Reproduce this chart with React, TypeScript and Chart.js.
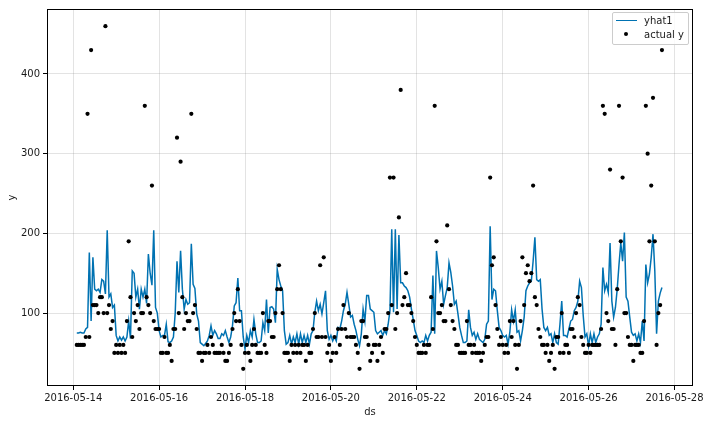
import React, { useEffect, useRef } from 'react';
import { Chart, registerables } from 'chart.js';

Chart.register(...registerables);

// x is measured in hours after 2016-05-14 00:00; the series start at 02:00
const START_HOUR = 2;
const xTickHours = [0, 48, 96, 144, 192, 240, 288, 336];
const xTickLabels = ['2016-05-14', '2016-05-16', '2016-05-18', '2016-05-20', '2016-05-22', '2016-05-24', '2016-05-26', '2016-05-28'];
const yTickValues = [100, 200, 300, 400];

// yhat1 (hourly), one list per day
const yhat_0514 = [75, 75, 76, 75, 75, 80, 82, 176, 90, 170, 130, 128, 130, 126, 142, 140, 124, 204, 120, 124, 107, 110];
const yhat_0515 = [72, 65, 70, 66, 70, 65, 70, 90, 68, 153, 150, 120, 130, 105, 130, 120, 130, 112, 174, 150, 135, 204, 107, 100];
const yhat_0516 = [78, 70, 72, 72, 86, 64, 63, 65, 70, 100, 165, 126, 178, 130, 105, 117, 111, 113, 187, 136, 131, 99, 90, 63];
const yhat_0517 = [61, 59, 62, 65, 72, 84, 72, 78, 74, 68, 68, 74, 72, 78, 70, 63, 70, 84, 109, 113, 144, 103, 103, 70];
const yhat_0518 = [55, 72, 63, 78, 70, 92, 74, 63, 63, 65, 88, 78, 117, 75, 107, 108, 105, 88, 155, 142, 134, 128, 78, 61];
const yhat_0519 = [63, 72, 61, 70, 63, 74, 61, 74, 63, 72, 63, 72, 61, 74, 78, 101, 115, 103, 111, 99, 113, 128, 78, 67];
const yhat_0520 = [72, 65, 70, 65, 82, 80, 90, 103, 111, 126, 111, 95, 97, 86, 78, 67, 59, 74, 105, 90, 122, 122, 105, 103];
const yhat_0521 = [101, 78, 74, 76, 78, 72, 78, 74, 86, 103, 205, 101, 205, 105, 198, 138, 138, 134, 132, 128, 120, 105, 92, 78];
const yhat_0522 = [72, 65, 63, 65, 63, 72, 65, 72, 76, 147, 74, 178, 157, 130, 140, 111, 122, 132, 163, 151, 134, 111, 115, 99];
const yhat_0523 = [82, 72, 63, 63, 65, 104, 82, 72, 76, 67, 74, 67, 65, 63, 67, 86, 90, 209, 117, 130, 128, 103, 82, 78];
const yhat_0524 = [72, 70, 72, 61, 76, 104, 90, 104, 76, 78, 65, 78, 95, 128, 134, 138, 140, 165, 195, 142, 140, 142, 105, 82];
const yhat_0525 = [78, 82, 72, 74, 63, 74, 63, 61, 86, 115, 72, 72, 70, 80, 90, 92, 103, 107, 115, 140, 132, 97, 70, 74];
const yhat_0526 = [59, 74, 63, 74, 63, 70, 74, 86, 157, 128, 136, 126, 188, 115, 95, 107, 130, 161, 188, 165, 201, 120, 115, 95];
const yhat_0527 = [76, 72, 74, 65, 74, 63, 90, 65, 161, 138, 149, 170, 199, 153, 74, 115, 125, 132];

// actual y (hourly), one list per day
const y_0514 = [60, 60, 60, 60, 60, 70, 350, 70, 430, 110, 110, 110, 100, 120, 120, 100, 460, 100, 110, 80, 90, 50];
const y_0515 = [60, 50, 60, 50, 60, 50, 90, 190, 120, 70, 100, 90, 110, 80, 100, 100, 360, 120, 110, 100, 260, 90, 80, 80];
const y_0516 = [80, 50, 50, 70, 50, 50, 60, 40, 80, 80, 320, 100, 290, 120, 80, 100, 90, 90, 350, 100, 110, 80, 50, 50];
const y_0517 = [40, 50, 50, 60, 50, 70, 60, 50, 50, 50, 50, 60, 50, 40, 40, 50, 60, 80, 100, 90, 130, 90, 60, 30];
const y_0518 = [50, 60, 50, 40, 60, 80, 60, 50, 50, 50, 100, 60, 50, 90, 90, 70, 70, 100, 130, 160, 130, 100, 50, 50];
const y_0519 = [50, 40, 60, 50, 60, 50, 60, 50, 60, 60, 40, 60, 50, 50, 80, 100, 70, 70, 160, 70, 170, 70, 50, 60];
const y_0520 = [40, 50, 70, 50, 80, 60, 80, 110, 80, 70, 100, 70, 70, 70, 60, 50, 30, 90, 90, 70, 70, 60, 40, 50];
const y_0521 = [60, 60, 40, 60, 70, 50, 80, 80, 100, 270, 110, 270, 80, 100, 220, 380, 110, 120, 150, 110, 110, 100, 90, 70];
const y_0522 = [60, 50, 50, 50, 60, 50, 60, 60, 120, 80, 360, 190, 100, 100, 110, 90, 90, 210, 130, 110, 90, 80, 60, 60];
const y_0523 = [50, 50, 50, 50, 90, 60, 60, 50, 60, 50, 50, 50, 40, 50, 60, 70, 70, 270, 160, 170, 110, 80, 60, 70];
const y_0524 = [60, 50, 60, 50, 90, 70, 90, 60, 30, 60, 90, 170, 110, 150, 160, 140, 150, 260, 120, 110, 80, 70, 60, 60];
const y_0525 = [50, 60, 40, 50, 60, 30, 70, 70, 50, 100, 50, 60, 60, 50, 80, 80, 70, 100, 120, 110, 70, 60, 50, 50];
const y_0526 = [60, 50, 60, 60, 60, 60, 60, 80, 360, 350, 100, 90, 280, 80, 80, 60, 130, 360, 190, 270, 100, 100, 70, 60];
const y_0527 = [60, 40, 60, 60, 60, 50, 50, 90, 360, 300, 190, 260, 370, 190, 60, 100, 110, 430];

const yhat1 = [
  ...yhat_0514, ...yhat_0515, ...yhat_0516, ...yhat_0517, ...yhat_0518, ...yhat_0519, ...yhat_0520,
  ...yhat_0521, ...yhat_0522, ...yhat_0523, ...yhat_0524, ...yhat_0525, ...yhat_0526, ...yhat_0527,
];
const actualY = [
  ...y_0514, ...y_0515, ...y_0516, ...y_0517, ...y_0518, ...y_0519, ...y_0520,
  ...y_0521, ...y_0522, ...y_0523, ...y_0524, ...y_0525, ...y_0526, ...y_0527,
];

const FONT = "'DejaVu Sans', 'Liberation Sans', sans-serif";
const TEXT = '#1a1a1a';

const framePlugin = {
  id: 'axesFrame',
  afterDatasetsDraw(chart: any) {
    const { ctx, chartArea } = chart;
    const l = Math.round(chartArea.left) + 0.5;
    const t = Math.round(chartArea.top) + 0.5;
    const r = Math.round(chartArea.right) - 0.5;
    const b = Math.round(chartArea.bottom) - 0.5;
    ctx.save();
    ctx.strokeStyle = '#000';
    ctx.lineWidth = 1;
    ctx.strokeRect(l, t, r - l, b - t);
    ctx.restore();
  },
};

function indexRange() {
  const n = Math.max(yhat1.length, actualY.length);
  return { first: START_HOUR, last: START_HOUR + n - 1 };
}

export default function App() {
  const canvasRef = useRef<HTMLCanvasElement | null>(null);

  useEffect(() => {
    const canvas = canvasRef.current;
    if (!canvas) return;
    const { first, last } = indexRange();
    const span = last - first;
    const xMin = first - 0.05 * span - 0.3;
    const xMax = last + 0.05 * span + 1.0;
    const dataMin = Math.min(...actualY, ...yhat1);
    const dataMax = Math.max(...actualY, ...yhat1);
    const yMin = dataMin - 0.05 * (dataMax - dataMin);
    const yMax = dataMax + 0.05 * (dataMax - dataMin);

    const chart = new Chart(canvas, {
      type: 'line',
      data: {
        datasets: [
          {
            label: 'actual y',
            data: actualY.map((v, i) => ({ x: START_HOUR + i, y: v })),
            showLine: false,
            pointRadius: 2.1,
            pointBackgroundColor: '#000',
            pointBorderWidth: 0,
            borderColor: '#000',
            order: 0,
          },
          {
            label: 'yhat1',
            data: yhat1.map((v, i) => ({ x: START_HOUR + i, y: v })),
            borderColor: '#0072B2',
            borderWidth: 1.5,
            pointRadius: 0,
            tension: 0,
            order: 1,
          },
        ],
      },
      options: {
        animation: false,
        responsive: false,
        devicePixelRatio: 1,
        layout: { padding: { left: 0, top: 6, right: 17, bottom: 0 } },
        plugins: { legend: { display: false }, tooltip: { enabled: false } },
        scales: {
          x: {
            type: 'linear',
            min: xMin,
            max: xMax,
            afterBuildTicks: (scale: any) => {
              scale.ticks = xTickHours.map((v) => ({ value: v }));
            },
            afterFit: (scale: any) => {
              scale.height = 38;
            },
            ticks: {
              autoSkip: false,
              maxRotation: 0,
              padding: 2,
              color: TEXT,
              font: { family: FONT, size: 10 },
              callback: (value: any) => {
                const idx = xTickHours.indexOf(Number(value));
                return idx >= 0 ? xTickLabels[idx] : '';
              },
            },
            grid: {
              color: 'rgba(128,128,128,0.22)',
              lineWidth: 1,
              tickColor: '#000',
              tickLength: 4,
            },
            border: { display: false },
            title: {
              display: true,
              text: 'ds',
              color: TEXT,
              font: { family: FONT, size: 10 },
              padding: { top: 4, bottom: 6 },
            },
          },
          y: {
            type: 'linear',
            min: yMin,
            max: yMax,
            afterBuildTicks: (scale: any) => {
              scale.ticks = yTickValues.map((v) => ({ value: v }));
            },
            afterFit: (scale: any) => {
              scale.width = 47;
            },
            ticks: {
              padding: 3,
              color: TEXT,
              font: { family: FONT, size: 10 },
              callback: (value: any) => String(value),
            },
            grid: {
              color: 'rgba(128,128,128,0.22)',
              lineWidth: 1,
              tickColor: '#000',
              tickLength: 4,
            },
            border: { display: false },
            title: {
              display: true,
              text: 'y',
              color: TEXT,
              font: { family: FONT, size: 10 },
              padding: { top: 6, bottom: 4 },
            },
          },
        },
      },
      plugins: [framePlugin],
    });
    return () => chart.destroy();
  }, []);

  const legendText: React.CSSProperties = {
    position: 'absolute',
    left: 31,
    fontFamily: FONT,
    fontSize: 10,
    lineHeight: '12px',
    color: TEXT,
    whiteSpace: 'nowrap',
  };

  return (
    <div style={{ position: 'absolute', left: 0, top: 0, width: 710, height: 424, background: '#fff' }}>
      <canvas ref={canvasRef} width={710} height={424} style={{ width: 710, height: 424, display: 'block' }} />
      <div
        style={{
          position: 'absolute',
          left: 612,
          top: 12,
          width: 75,
          height: 31,
          border: '1px solid #cccccc',
          borderRadius: 2,
          background: 'rgba(255,255,255,0.8)',
        }}
      >
        <div style={{ position: 'absolute', left: 3, top: 7, width: 21, height: 0, borderTop: '1.5px solid #0072B2' }} />
        <div style={{ ...legendText, top: 2 }}>yhat1</div>
        <div
          style={{
            position: 'absolute',
            left: 11,
            top: 19,
            width: 4,
            height: 4,
            borderRadius: '50%',
            background: '#000',
          }}
        />
        <div style={{ ...legendText, top: 16 }}>actual y</div>
      </div>
    </div>
  );
}
